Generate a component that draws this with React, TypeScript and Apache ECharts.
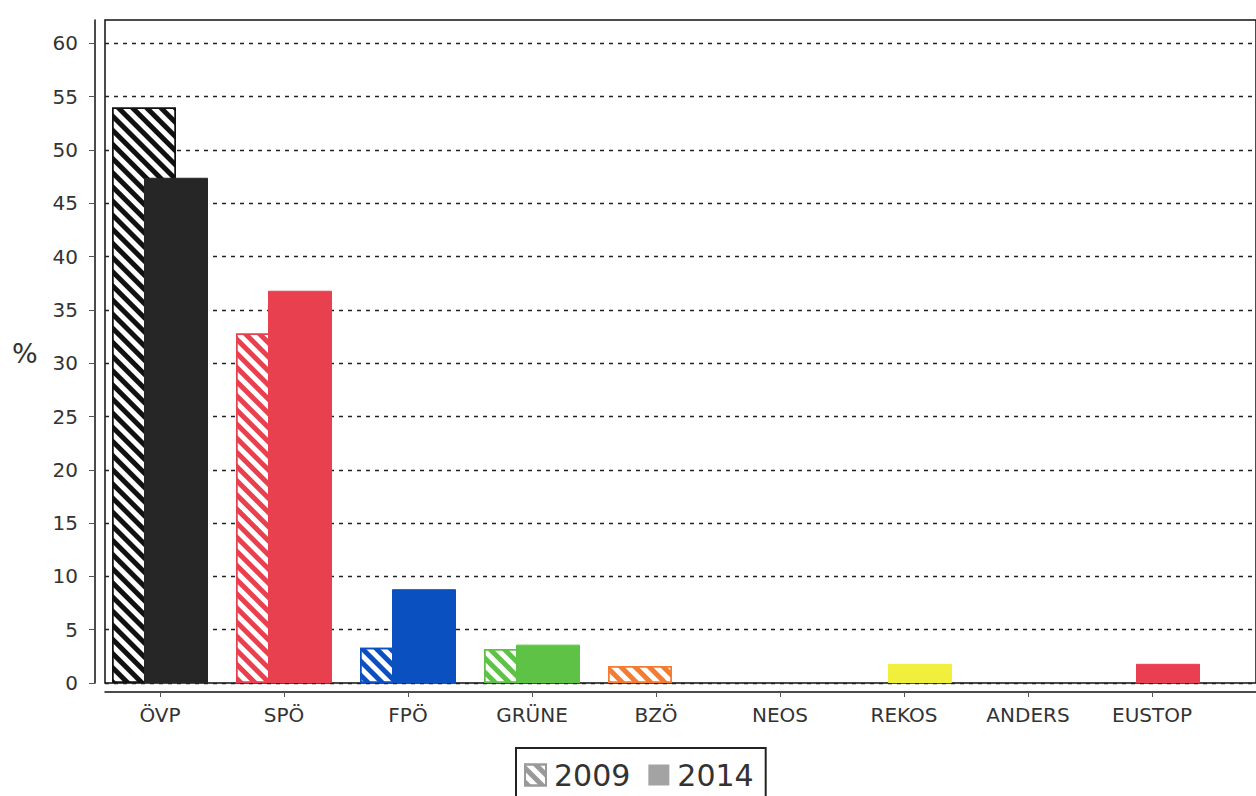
import React, { useEffect, useRef } from "react";
import * as echarts from "echarts";

const categories = ["ÖVP", "SPÖ", "FPÖ", "GRÜNE", "BZÖ", "NEOS", "REKOS", "ANDERS", "EUSTOP"];
const values2009: (number | null)[] = [54.0, 32.8, 3.3, 3.2, 1.6, null, null, null, null];
const values2014: (number | null)[] = [47.4, 36.8, 8.8, 3.6, null, null, 1.8, null, 1.8];
const partyColors = ["#262626", "#e8404f", "#0b50c0", "#5ec246", "#f47c32", "#999999", "#f0f03c", "#999999", "#ea3f50"];
const hatchColors = ["#111111", "#e8404f", "#0b50c0", "#5ec246", "#f47c32", "#999999", "#f0f03c", "#999999", "#ea3f50"];
const yTicks = [0, 5, 10, 15, 20, 25, 30, 35, 40, 45, 50, 55, 60];
const seriesNames = ["2009", "2014"];

const FONT = "DejaVu Sans";

function hatch(color: string) {
  return {
    symbol: "rect",
    symbolSize: 1,
    dashArrayX: [1, 0],
    dashArrayY: [5, 5],
    rotation: Math.PI / 4,
    color,
    backgroundColor: "#ffffff",
  };
}

export default function App() {
  const ref = useRef<HTMLDivElement>(null);
  useEffect(() => {
    if (!ref.current) return;
    const chart = echarts.init(ref.current, null, { renderer: "svg" });
    const yMax = 62.2;
    chart.setOption({
      animation: false,
      backgroundColor: "#ffffff",
      textStyle: { fontFamily: FONT },
      grid: [
        { left: 105, right: -6, top: 20, bottom: 113, show: true, borderColor: "#111", borderWidth: 1.5, backgroundColor: "transparent" },
        { left: 98, width: 1116, top: 20, bottom: 113, show: false },
      ],
      xAxis: [
        {
          gridIndex: 0,
          type: "value",
          min: 0,
          max: 1,
          offset: 9,
          position: "bottom",
          axisLine: { show: true, onZero: false, lineStyle: { color: "#111", width: 1.5 } },
          axisTick: { show: false },
          axisLabel: { show: false },
          splitLine: { show: false },
        },
        {
          gridIndex: 1,
          type: "category",
          data: categories,
          offset: 9,
          position: "bottom",
          axisLine: { show: false, onZero: false },
          axisTick: { show: true, alignWithLabel: true, length: 5, lineStyle: { color: "#555", width: 1 } },
          axisLabel: { fontSize: 20, color: "#333", margin: 13, fontFamily: FONT },
          splitLine: { show: false },
        },
      ],
      yAxis: [
        {
          gridIndex: 0,
          type: "value",
          min: 0,
          max: yMax,
          interval: 5,
          offset: 10,
          position: "left",
          axisLine: { show: true, onZero: false, lineStyle: { color: "#111", width: 1.5 } },
          axisTick: { show: true, length: 6, lineStyle: { color: "#555" }, customValues: yTicks },
          axisLabel: {
            fontSize: 20,
            color: "#333",
            margin: 17,
            fontFamily: FONT,
            customValues: yTicks,
            formatter: (v: number) => (yTicks.indexOf(v) >= 0 ? String(v) : ""),
          },
          splitLine: { show: true, lineStyle: { color: "#222", width: 1.3, type: [4, 5] } },
        },
        { gridIndex: 1, type: "value", min: 0, max: yMax, show: false, splitLine: { show: false } },
      ],
      legend: {
        data: seriesNames,
        left: 516,
        top: 748,
        orient: "horizontal",
        icon: "rect",
        itemWidth: 21,
        itemHeight: 21,
        itemGap: 18,
        borderColor: "#222",
        borderWidth: 2,
        padding: [12, 12, 20, 8],
        textStyle: { fontSize: 30, color: "#333", fontFamily: FONT, padding: [0, 0, 0, 3] },
      },
      graphic: [
        { type: "text", left: 12, top: 340, style: { text: "%", fontSize: 27, fill: "#333", fontFamily: FONT } },
      ],
      series: [
        {
          name: seriesNames[0],
          type: "bar",
          xAxisIndex: 1,
          yAxisIndex: 1,
          barWidth: 64,
          barGap: "-50%",
          itemStyle: { color: "#ffffff", borderColor: "#999", borderWidth: 1.5, decal: hatch("#999") },
          data: values2009.map((v, i) => ({
            value: v,
            itemStyle: { color: "#ffffff", borderColor: hatchColors[i], borderWidth: 1.5, decal: hatch(hatchColors[i]) },
          })),
        },
        {
          name: seriesNames[1],
          type: "bar",
          xAxisIndex: 1,
          yAxisIndex: 1,
          barWidth: 64,
          barGap: "-50%",
          itemStyle: { color: "#a3a3a3" },
          data: values2014.map((v, i) => ({
            value: v,
            itemStyle: { color: partyColors[i], borderColor: partyColors[i], borderWidth: 1 },
          })),
        },
      ],
    });
    return () => chart.dispose();
  }, []);
  return <div ref={ref} style={{ position: "fixed", left: 0, top: 0, width: 1256, height: 796 }} />;
}
